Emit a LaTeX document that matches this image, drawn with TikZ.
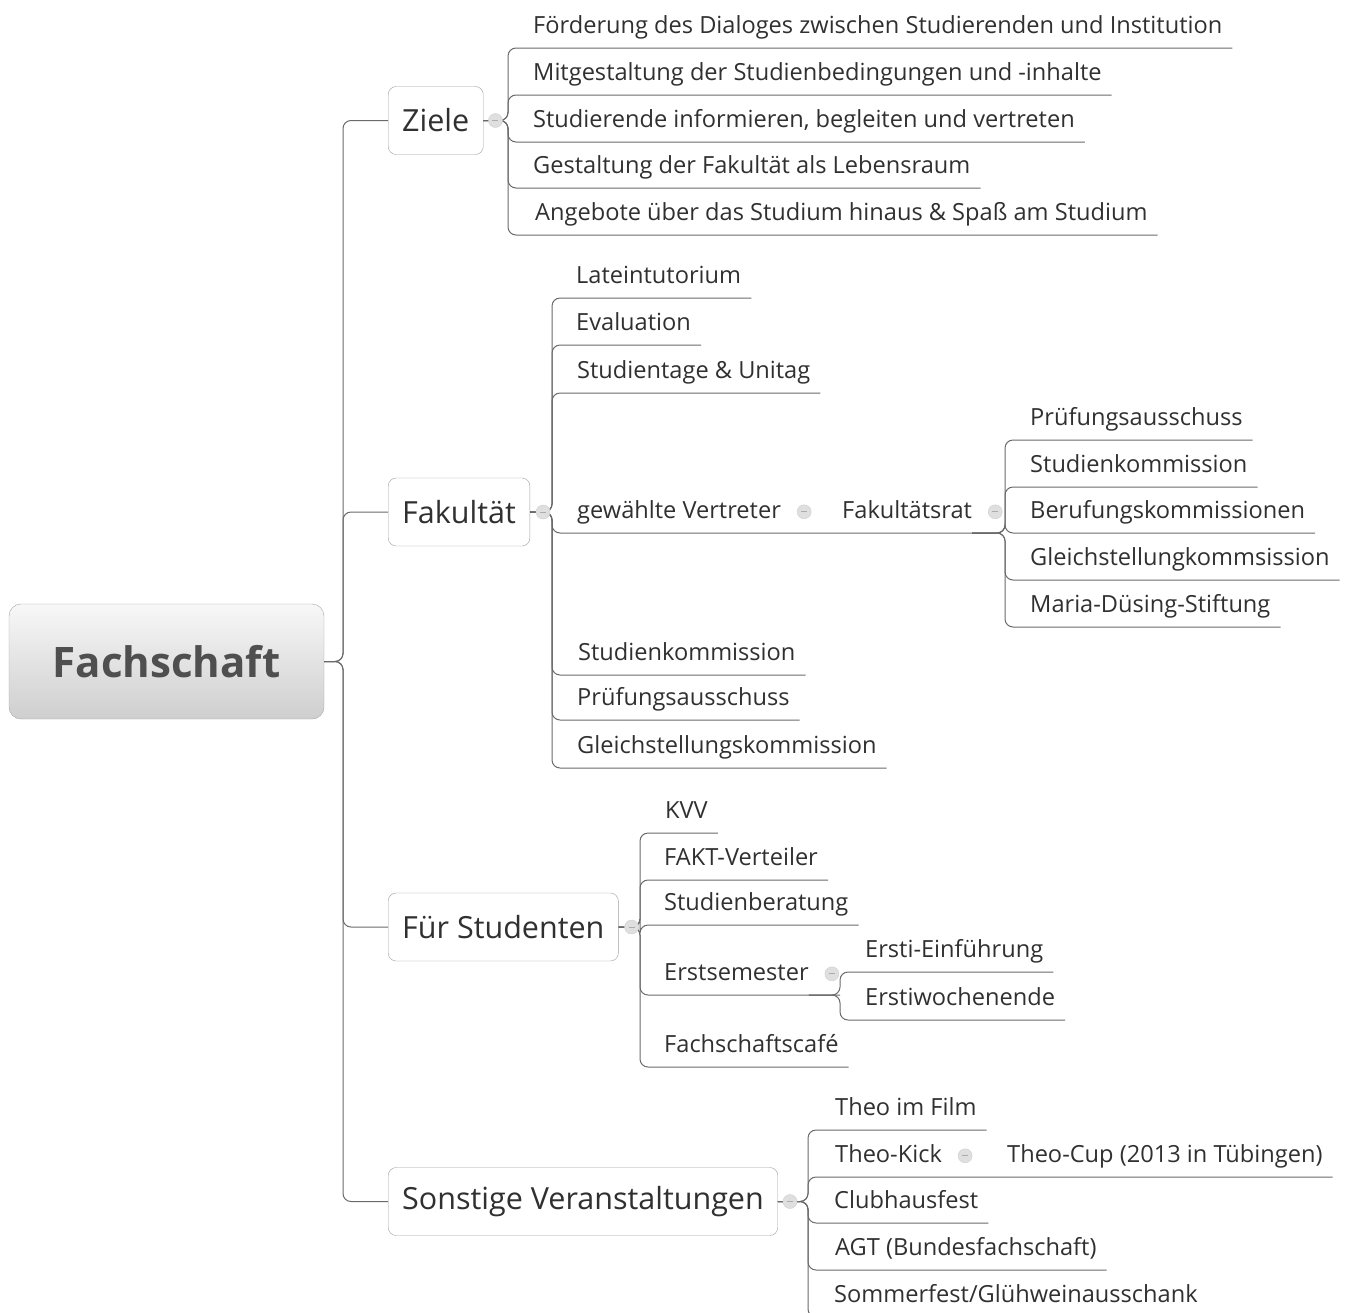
\documentclass[tikz,border=0pt]{standalone}
\usepackage{fontspec}
\setmainfont{Open Sans}
\usetikzlibrary{calc}
\definecolor{linegray}{HTML}{6A6A6A}
\definecolor{txtgray}{HTML}{303030}
\tikzset{
    root/.style={draw=gray!70, rounded corners=12pt, top color=gray!6, bottom color=gray!38,
        minimum width=315pt, minimum height=115pt, text=txtgray!85,
        font=\fontsize{42}{42}\selectfont\bfseries},
    topic/.style={draw=gray!75, fill=white, rounded corners=8pt, anchor=west,
        minimum height=68pt, inner xsep=14pt, text=txtgray,
        font=\fontsize{30.5}{30.5}\selectfont},
    leaf/.style={anchor=south west, inner sep=0pt, text depth=14pt, text=txtgray,
        font=\fontsize{23.6}{23.6}\selectfont},
    fold/.style={circle, fill=gray!25, draw=gray!38, minimum size=14pt, inner sep=0pt,
        path picture={\draw[gray!65, line width=0.8pt]
            ([xshift=-3pt]path picture bounding box.center) -- ([xshift=3pt]path picture bounding box.center);}},
    link/.style={draw=linegray, line width=1pt, rounded corners=8pt},
}
\begin{document}
\begin{tikzpicture}[x=1pt, y=-1pt]
\useasboundingbox (0,0) rectangle (1351,1312);
\clip (0,0) rectangle (1351,1312);

% Hauptthema und Zweige
\node[root] (fach) at (166.5,661.5) {Fachschaft};
\node[topic] (ziele) at (388,120.5) {Ziele};
\node[topic] (fak) at (388,512) {Fakultät};
\node[topic] (fuer) at (388,927) {Für Studenten};
\node[topic] (sonst) at (388,1201.5) {Sonstige Veranstaltungen};
\coordinate (rs) at (343,661.5);
\draw[link] (fach.east) -- (rs) |- (ziele.west);
\draw[link] (fach.east) -- (rs) |- (fak.west);
\draw[link] (fach.east) -- (rs) |- (fuer.west);
\draw[link] (fach.east) -- (rs) |- (sonst.west);

% Ziele
\node[leaf] (z1) at (533,48) {Förderung des Dialoges zwischen Studierenden und Institution};
\node[leaf] (z2) at (533,95) {Mitgestaltung der Studienbedingungen und -inhalte};
\node[leaf] (z3) at (533,142) {Studierende informieren, begleiten und vertreten};
\node[leaf] (z4) at (533,188) {Gestaltung der Fakultät als Lebensraum};
\node[leaf] (z5) at (535,235) {Angebote über das Studium hinaus \& Spaß am Studium};
\coordinate (zs) at (508,120.5);
\draw[link] (ziele.east) -- (zs) |- ([xshift=10pt]z1.south east);
\draw[link] (ziele.east) -- (zs) |- ([xshift=10pt]z2.south east);
\draw[link] (ziele.east) -- (zs) |- ([xshift=10pt]z3.south east);
\draw[link] (ziele.east) -- (zs) |- ([xshift=10pt]z4.south east);
\draw[link] (ziele.east) -- (zs) |- ([xshift=10pt]z5.south east);
\node[fold] (zf) at ([xshift=12pt]ziele.east) {};

% Fakultaet
\node[leaf] (f1) at (576,298) {Lateintutorium};
\node[leaf] (f2) at (576,345) {Evaluation};
\node[leaf] (f3) at (577,393) {Studientage \& Unitag};
\node[leaf] (f4) at (577,533) {gewählte Vertreter};
\node[leaf] (f5) at (578,675) {Studienkommission};
\node[leaf] (f6) at (577,720) {Prüfungsausschuss};
\node[leaf] (f7) at (577,768) {Gleichstellungskommission};
\node[leaf] (rat) at (842,533) {Fakultätsrat};
\coordinate (fs) at (552,512);
\draw[link] (fak.east) -- (fs) |- ([xshift=10pt]f1.south east);
\draw[link] (fak.east) -- (fs) |- ([xshift=10pt]f2.south east);
\draw[link] (fak.east) -- (fs) |- ([xshift=10pt]f3.south east);
\draw[link] (fak.east) -- (fs) |- (rat.south east);
\draw[link] (fak.east) -- (fs) |- ([xshift=10pt]f5.south east);
\draw[link] (fak.east) -- (fs) |- ([xshift=10pt]f6.south east);
\draw[link] (fak.east) -- (fs) |- ([xshift=10pt]f7.south east);
\node[fold] (ff) at ([xshift=13pt]fak.east) {};
\node[fold] (f4f) at ([xshift=23pt,yshift=7pt]f4.base east) {};

% Fakultaetsrat
\node[leaf] (r1) at (1030,440) {Prüfungsausschuss};
\node[leaf] (r2) at (1030,487) {Studienkommission};
\node[leaf] (r3) at (1030,533) {Berufungskommissionen};
\node[leaf] (r4) at (1030,580) {Gleichstellungkommsission};
\node[leaf] (r5) at (1030,627) {Maria-Düsing-Stiftung};
\coordinate (rats) at (1005,533);
\draw[link] (rat.south east) -- (rats) |- ([xshift=10pt]r1.south east);
\draw[link] (rat.south east) -- (rats) |- ([xshift=10pt]r2.south east);
\draw[link] (rat.south east) -- (rats) |- ([xshift=10pt]r3.south east);
\draw[link] (rat.south east) -- (rats) |- ([xshift=10pt]r4.south east);
\draw[link] (rat.south east) -- (rats) |- ([xshift=10pt]r5.south east);
\node[fold] (ratf) at ([xshift=23pt,yshift=7pt]rat.base east) {};

% Fuer Studenten
\node[leaf] (s1) at (665,833) {KVV};
\node[leaf] (s2) at (664,880) {FAKT-Verteiler};
\node[leaf] (s3) at (664,925) {Studienberatung};
\node[leaf] (s4) at (664,995) {Erstsemester};
\node[leaf] (s5) at (664,1067) {Fachschaftscafé};
\coordinate (ss) at (640,927);
\coordinate (es) at (840,995);
\draw[link] (fuer.east) -- (ss) |- ([xshift=10pt]s1.south east);
\draw[link] (fuer.east) -- (ss) |- ([xshift=10pt]s2.south east);
\draw[link] (fuer.east) -- (ss) |- ([xshift=10pt]s3.south east);
\draw[link] (fuer.east) -- (ss) |- (es);
\draw[link] (fuer.east) -- (ss) |- ([xshift=10pt]s5.south east);
\node[fold] (sf) at ([xshift=13pt]fuer.east) {};

% Erstsemester
\node[leaf] (e1) at (865,972) {Ersti-Einführung};
\node[leaf] (e2) at (865,1020) {Erstiwochenende};
\draw[link] (s4.south east) -- (es) |- ([xshift=10pt]e1.south east);
\draw[link] (s4.south east) -- (es) |- ([xshift=10pt]e2.south east);
\node[fold] (s4f) at ([xshift=23pt,yshift=7pt]s4.base east) {};

% Sonstige Veranstaltungen
\node[leaf] (o1) at (835,1130) {Theo im Film};
\node[leaf] (o2) at (835,1177) {Theo-Kick};
\node[leaf] (o3) at (834,1223) {Clubhausfest};
\node[leaf] (o4) at (835,1270) {AGT (Bundesfachschaft)};
\node[leaf] (o5) at (834,1317) {Sommerfest/Glühweinausschank};
\node[leaf] (cup) at (1007,1177) {Theo-Cup (2013 in Tübingen)};
\coordinate (os) at (808,1201.5);
\draw[link] (sonst.east) -- (os) |- ([xshift=10pt]o1.south east);
\draw[link] (sonst.east) -- (os) |- ([xshift=10pt]cup.south east);
\draw[link] (sonst.east) -- (os) |- ([xshift=10pt]o3.south east);
\draw[link] (sonst.east) -- (os) |- ([xshift=10pt]o4.south east);
\draw[link] (sonst.east) -- (os) |- ([xshift=10pt]o5.south east);
\node[fold] (of) at ([xshift=12pt]sonst.east) {};
\node[fold] (o2f) at ([xshift=23pt,yshift=7pt]o2.base east) {};
\end{tikzpicture}
\end{document}
